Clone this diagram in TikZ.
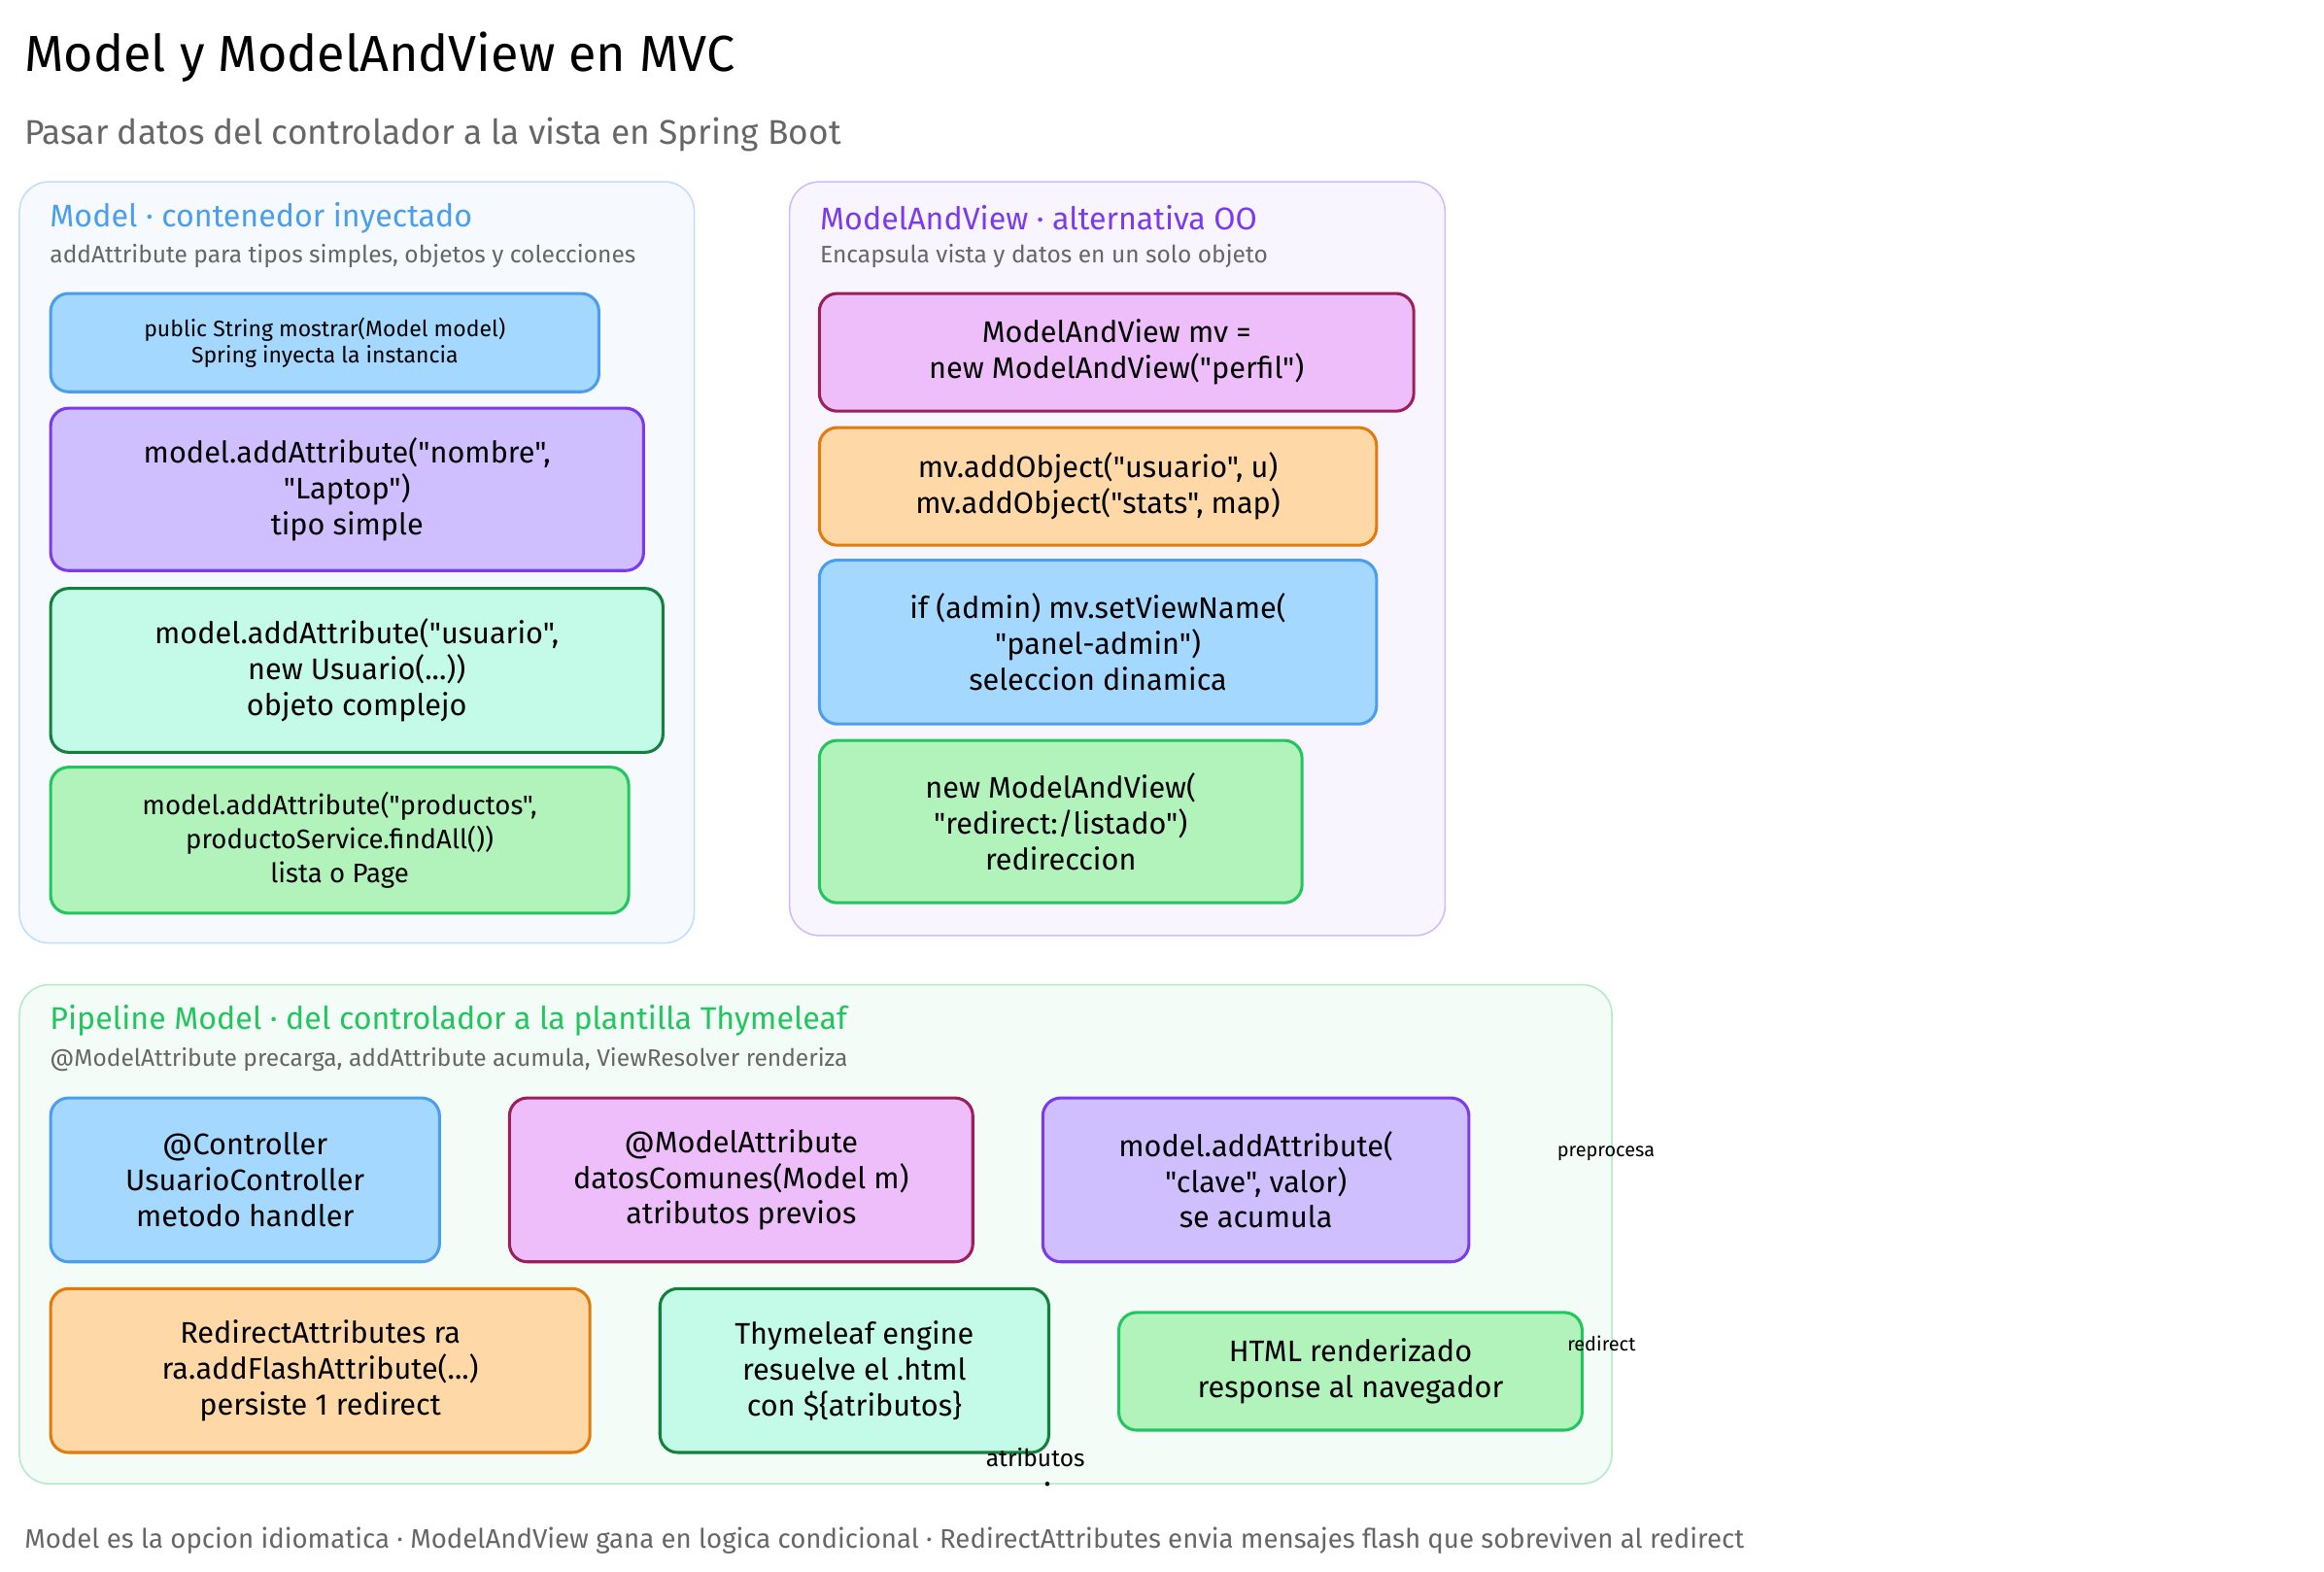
\documentclass[tikz,border=0pt]{standalone}
\usepackage{fontspec}
\setmainfont{Fira Sans}[Ligatures=TeXOff]
\definecolor{blueF}{HTML}{A5D8FF}\definecolor{blueD}{HTML}{4A9EED}
\definecolor{purpF}{HTML}{D0BFFF}\definecolor{purpD}{HTML}{7C3AED}
\definecolor{mintF}{HTML}{C3FAE8}\definecolor{mintD}{HTML}{15803D}
\definecolor{grnF}{HTML}{B2F2BB}\definecolor{grnD}{HTML}{22C55E}
\definecolor{pinkF}{HTML}{EEBEFA}\definecolor{pinkD}{HTML}{9C1F5A}
\definecolor{orgF}{HTML}{FFD8A8}\definecolor{orgD}{HTML}{E07B0C}
\tikzset{
    group/.style={draw=#1!35, fill=#1!5, line width=1pt, rounded corners=20pt},
    card/.style={draw=#1D, fill=#1F, line width=2pt, rounded corners=12pt, inner sep=0},
    txt/.style={font=\fontsize{20}{24}\selectfont, align=center},
    small/.style={font=\fontsize{15}{18}\selectfont, align=center},
    gtitle/.style={anchor=west, font=\fontsize{21}{25}\selectfont},
    gsub/.style={anchor=west, text=black!60, font=\fontsize{16}{19}\selectfont},
    stray/.style={font=\fontsize{13}{15}\selectfont}
}
\begin{document}
\begin{tikzpicture}[x=1pt, y=-1pt]
    \useasboundingbox (0,0) rectangle (1560,1055);
    \node[anchor=west, font=\fontsize{34}{40}\selectfont] (title) at (13,38) {Model y ModelAndView en MVC};
    \node[anchor=west, text=black!60, font=\fontsize{23}{27}\selectfont] (subtitle) at (13,90) {Pasar datos del controlador a la vista en Spring Boot};
    % Model
    \draw[group=blueD] (13,122) rectangle (466,633);
    \node[gtitle, text=blueD] (mtitle) at (30,146) {Model · contenedor inyectado};
    \node[gsub] (msub) at (30,172) {addAttribute para tipos simples, objetos y colecciones};
    \draw[card=blue] (34,197) rectangle (402,263) node[midway, small] (m1) {public String mostrar(Model model)\\Spring inyecta la instancia};
    \draw[card=purp] (34,274) rectangle (432,383) node[midway, txt] (m2) {model.addAttribute("nombre",\\"Laptop")\\tipo simple};
    \draw[card=mint] (34,395) rectangle (445,505) node[midway, txt] (m3) {model.addAttribute("usuario",\\new Usuario(...))\\objeto complejo};
    \draw[card=grn] (34,515) rectangle (422,613) node[midway, txt, font=\fontsize{18}{23}\selectfont] (m4) {model.addAttribute("productos",\\productoService.findAll())\\lista o Page};
    % ModelAndView
    \draw[group=purpD] (530,122) rectangle (970,628);
    \node[gtitle, text=purpD] (vtitle) at (547,146) {ModelAndView · alternativa OO};
    \node[gsub] (vsub) at (547,172) {Encapsula vista y datos en un solo objeto};
    \draw[card=pink] (550,197) rectangle (949,276) node[midway, txt] (v1) {ModelAndView mv =\\new ModelAndView("perfil")};
    \draw[card=org] (550,287) rectangle (924,366) node[midway, txt] (v2) {mv.addObject("usuario", u)\\mv.addObject("stats", map)};
    \draw[card=blue] (550,376) rectangle (924,486) node[midway, txt] (v3) {if (admin) mv.setViewName(\\"panel-admin")\\seleccion dinamica};
    \draw[card=grn] (550,497) rectangle (874,606) node[midway, txt] (v4) {new ModelAndView(\\"redirect:/listado")\\redireccion};
    % Pipeline
    \draw[group=grnD] (13,661) rectangle (1082,996);
    \node[gtitle, text=grnD] (ptitle) at (30,685) {Pipeline Model · del controlador a la plantilla Thymeleaf};
    \node[gsub] (psub) at (30,711) {@ModelAttribute precarga, addAttribute acumula, ViewResolver renderiza};
    \draw[card=blue] (34,737) rectangle (295,847) node[midway, txt] (p1) {@Controller\\UsuarioController\\metodo handler};
    \draw[card=pink] (342,737) rectangle (653,847) node[midway, txt] (p2) {@ModelAttribute\\datosComunes(Model m)\\atributos previos};
    \draw[card=purp] (700,737) rectangle (986,847) node[midway, txt] (p3) {model.addAttribute(\\"clave", valor)\\se acumula};
    \draw[card=org] (34,865) rectangle (396,975) node[midway, txt] (p4) {RedirectAttributes ra\\ra.addFlashAttribute(...)\\persiste 1 redirect};
    \draw[card=mint] (443,865) rectangle (704,975) node[midway, txt] (p5) {Thymeleaf engine\\resuelve el .html\\con \$\{atributos\}};
    \draw[card=grn] (751,881) rectangle (1062,960) node[midway, txt] (p6) {HTML renderizado\\response al navegador};
    \node[stray] (lpre) at (1078,774) {preprocesa};
    \node[stray] (lred) at (1075,902) {redirect};
    \node[stray, font=\fontsize{16}{18}\selectfont] (latr) at (695,978) {atributos};
    \fill (703,996) circle (1.5pt);
    \node[anchor=west, text=black!60, font=\fontsize{18}{21}\selectfont] (footer) at (13,1034) {Model es la opcion idiomatica · ModelAndView gana en logica condicional · RedirectAttributes envia mensajes flash que sobreviven al redirect};
\end{tikzpicture}
\end{document}
